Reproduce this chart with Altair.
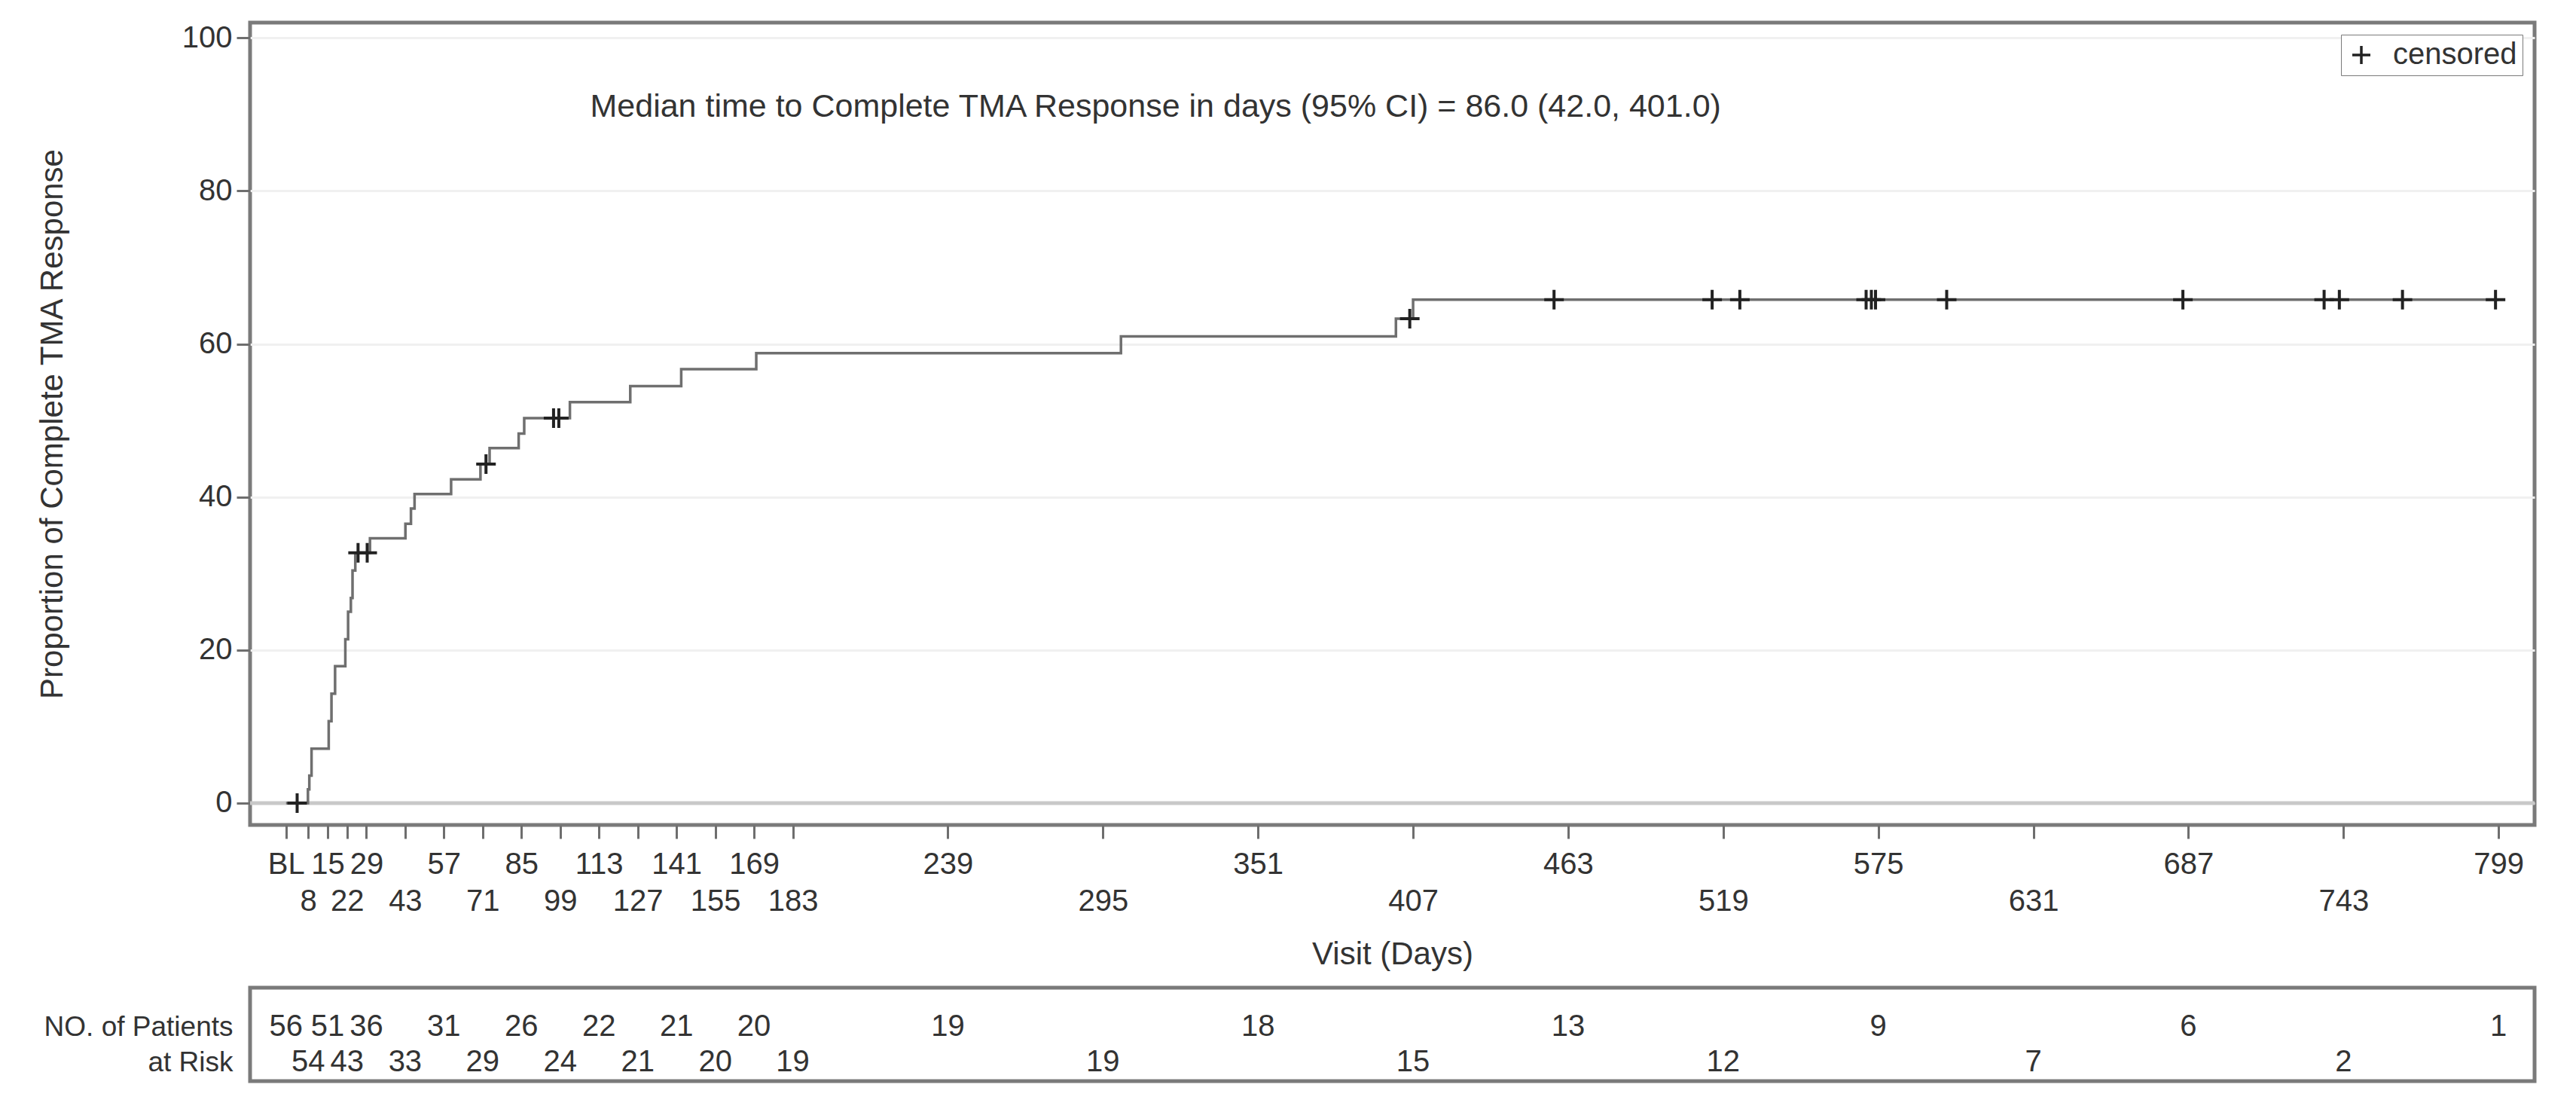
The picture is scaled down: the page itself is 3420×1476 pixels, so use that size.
import altair as alt
import pandas as pd

# ---------------- data ----------------
STEP_DAYS = [0, 7.9, 8.4, 9.2, 15.4, 16.4, 17.7, 21.4, 22.4, 23.4, 24.0, 25.0, 30.3,
             43.1, 45.1, 46.4, 59.6, 70.2, 73.5, 84.0, 86.0, 102.5, 124.3, 142.7,
             169.8, 301.5, 400.8, 407.0, 799]
STEP_VALUES = [0, 1.8, 3.6, 7.1, 10.7, 14.3, 17.9, 21.4, 25.0, 26.8, 30.4, 32.7, 34.6,
               36.5, 38.5, 40.4, 42.3, 44.3, 46.4, 48.3, 50.3, 52.4, 54.5, 56.7,
               58.8, 61.0, 63.3, 65.8, 65.8]

CENSOR_DAYS = [4, 26, 29.3, 72.2, 96.6, 98.5, 405.8, 457.9, 515, 525, 570.6, 572.5,
               574, 599.7, 685, 736, 741.5, 764.3, 797.9]
CENSOR_VALUES = [0, 32.7, 32.7, 44.3, 50.3, 50.3, 63.3, 65.8, 65.8, 65.8, 65.8, 65.8,
                 65.8, 65.8, 65.8, 65.8, 65.8, 65.8, 65.8]

TICK_DAYS = [0, 8, 15, 22, 29, 43, 57, 71, 85, 99, 113, 127, 141, 155, 169, 183,
             239, 295, 351, 407, 463, 519, 575, 631, 687, 743, 799]
AT_RISK = [56, 54, 51, 43, 36, 33, 31, 29, 26, 24, 22, 21, 21, 20, 20, 19,
           19, 19, 18, 15, 13, 12, 9, 7, 6, 2, 1]

ANNOTATION = "Median time to Complete TMA Response in days (95% CI) = 86.0 (42.0, 401.0)"
ANNOT_DAY = 314
ANNOT_VALUE = 91.0

# ---------------- styling ----------------
FONT = "Liberation Sans"
TEXT = "#333333"
FRAME = "#7a7a7a"
PLUS = "M-1,0L1,0M0,-1L0,1"

X_DOMAIN = [-13, 812]
Y_DOMAIN = [-2.86, 102.0]
W = 3033
H_MAIN = 1065
H_RISK = 124

row2 = [d for i, d in enumerate(TICK_DAYS) if i % 2 == 1]
row2_str = "[" + ",".join(str(v) for v in row2) + "]"

curve = pd.DataFrame({"day": STEP_DAYS, "value": STEP_VALUES})
cens = pd.DataFrame({"day": CENSOR_DAYS, "value": CENSOR_VALUES,
                     "lbl": ["censored"] * len(CENSOR_DAYS)})
risk = pd.DataFrame({"day": TICK_DAYS, "n": AT_RISK,
                     "row": [i % 2 for i in range(len(TICK_DAYS))]})
annot = pd.DataFrame({"day": [ANNOT_DAY], "value": [ANNOT_VALUE], "txt": [ANNOTATION]})
zero = pd.DataFrame({"value": [0]})

x_scale = alt.Scale(domain=X_DOMAIN, nice=False, zero=False)
y_scale = alt.Scale(domain=Y_DOMAIN, nice=False, zero=False)

x_axis = alt.Axis(
    values=TICK_DAYS, format="d",
    labelExpr="datum.value == 0 ? 'BL' : datum.label",
    labelPadding={"condition": {"test": f"indexof({row2_str}, datum.value) >= 0",
                                "value": 63}, "value": 14},
    labelOverlap=False, labelFlush=False, grid=False, domain=False,
    tickSize=18, tickWidth=3, tickColor="#6e6e6e",
    labelFont=FONT, labelFontSize=40, labelColor=TEXT,
    title="Visit (Days)", titleFont=FONT, titleFontSize=42, titleFontWeight="normal",
    titleColor=TEXT, titlePadding=30,
)
y_axis = alt.Axis(
    values=[0, 20, 40, 60, 80, 100], domain=False, grid=True,
    gridColor="#f0f0f0", gridWidth=3,
    tickSize=18, tickWidth=3, tickColor="#6e6e6e", labelPadding=6,
    labelFont=FONT, labelFontSize=40, labelColor=TEXT,
    title="Proportion of Complete TMA Response", titleFont=FONT, titleFontSize=42,
    titleFontWeight="normal", titleColor=TEXT, titlePadding=150,
)

view = alt.ViewBackground(stroke=FRAME, strokeWidth=5, fill="white")

zero_line = alt.Chart(zero).mark_rule(color="#c8c8c8", strokeWidth=5).encode(
    y=alt.Y("value:Q", scale=y_scale, axis=y_axis)
)

line = alt.Chart(curve).mark_line(interpolate="step-after", color="#6f6f6f",
                                  strokeWidth=3.5).encode(
    x=alt.X("day:Q", scale=x_scale, axis=x_axis),
    y=alt.Y("value:Q", scale=y_scale, axis=y_axis),
)

marks = alt.Chart(cens).mark_point(shape=PLUS, filled=False, size=676,
                                   strokeWidth=4, opacity=1).encode(
    x=alt.X("day:Q", scale=x_scale),
    y=alt.Y("value:Q", scale=y_scale),
    stroke=alt.Stroke("lbl:N", scale=alt.Scale(domain=["censored"], range=["#222222"]),
                      legend=alt.Legend(title=None, orient="top-right", offset=16,
                                        symbolType=PLUS, symbolSize=576,
                                        symbolStrokeWidth=3.5, symbolStrokeColor="#222222",
                                        labelFont=FONT, labelFontSize=40, labelColor=TEXT,
                                        labelLimit=0,
                                        strokeColor=FRAME, fillColor="white",
                                        padding=7, rowPadding=0, labelOffset=22)),
)

text = alt.Chart(annot).mark_text(font=FONT, fontSize=43, color=TEXT,
                                  align="center", baseline="middle").encode(
    x=alt.X("day:Q", scale=x_scale),
    y=alt.Y("value:Q", scale=y_scale),
    text="txt:N",
)

main = alt.layer(zero_line, line, marks, text).properties(
    width=W, height=H_MAIN, view=view)

risk_chart = alt.Chart(risk).mark_text(font=FONT, fontSize=40, color=TEXT,
                                       align="center", baseline="middle").encode(
    x=alt.X("day:Q", scale=x_scale, axis=None),
    y=alt.Y("row:Q", scale=alt.Scale(domain=[-1.106, 1.53], reverse=True, nice=False,
                                     zero=False),
            axis=alt.Axis(values=[0, 1], domain=False, ticks=False, grid=False,
                          title=None, labelOverlap=False, labelLimit=0,
                          labelExpr="datum.value == 0 ? 'NO. of Patients' : 'at Risk'",
                          labelFont=FONT, labelFontSize=37, labelColor=TEXT,
                          labelPadding=23)),
    text="n:Q",
).properties(width=W, height=H_RISK, view=view)

chart = alt.vconcat(main, risk_chart, spacing=18).properties(
    padding={"left": 37, "top": 19, "right": 10, "bottom": 10}
).configure_view(stroke=FRAME, strokeWidth=5).configure(background="white")

chart.save("out.html", embed_options={"renderer": "svg", "actions": False})
